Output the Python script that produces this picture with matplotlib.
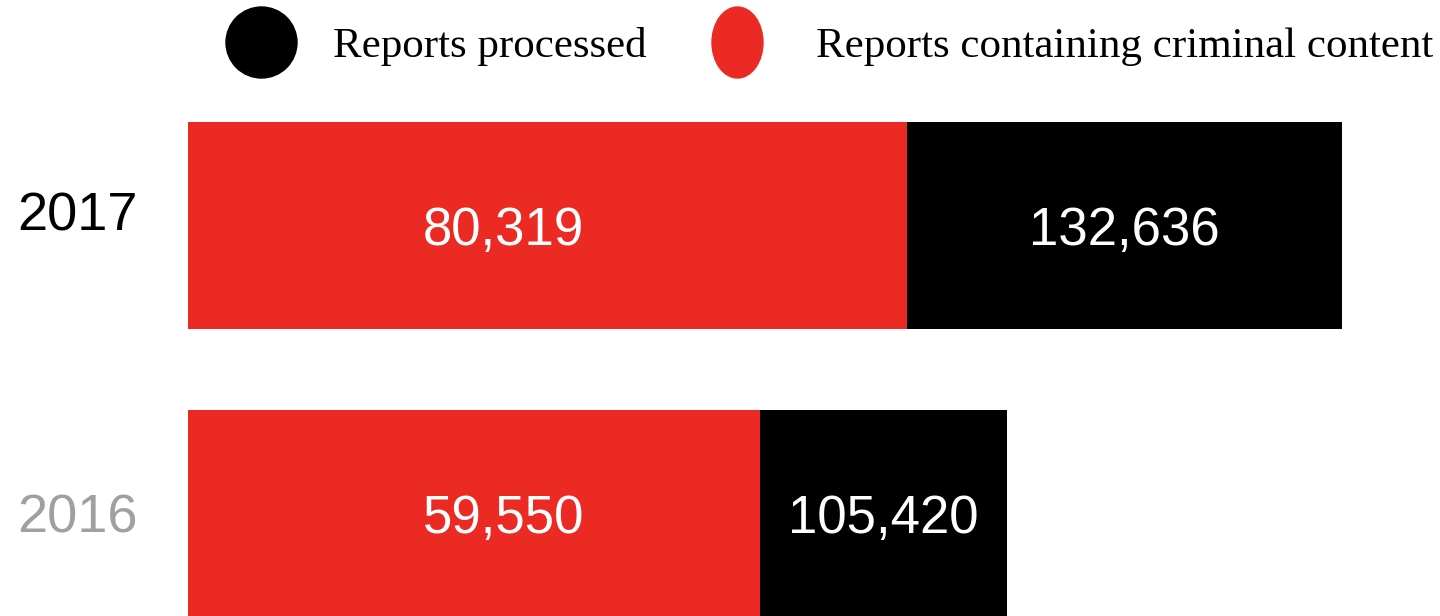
import matplotlib.pyplot as plt
from matplotlib.patches import Ellipse

# data
years = ["2017", "2016"]
criminal = [80319, 59550]
processed = [132636, 105420]
# bar lengths as drawn in the original (not to scale with the labels)
red_drawn = [82600, 65700]
total_drawn = [132636, 94100]

RED = "#ec2a24"
BLACK = "#000000"
GREY = "#a0a0a0"

W, H = 1440, 616
fig = plt.figure(figsize=(W / 100, H / 100), dpi=100)
ax = fig.add_axes([0, 0, 1, 1])

k = 132636 / 1154  # data units per pixel
ax.set_xlim(-188 * k, (W - 188) * k)
ax.set_ylim(1.356, -0.783)
ax.axis("off")

y = list(range(len(years)))
black_drawn = [t - r for t, r in zip(total_drawn, red_drawn)]
ax.barh(y, red_drawn, height=207 / 288, color=RED, linewidth=0)
ax.barh(y, black_drawn, left=red_drawn, height=207 / 288, color=BLACK, linewidth=0)

num_font = dict(family="Liberation Sans", fontsize=38, color="white", va="baseline")
year_colors = [BLACK, GREY]
year_dy = [14, 0]
for i in y:
    # year label
    ax.annotate(years[i], xy=(0, i), xytext=(-171, -19.5 + year_dy[i]),
                textcoords="offset pixels", ha="left", va="baseline",
                family="Liberation Sans", fontsize=39, color=year_colors[i])
    # red segment label
    ax.annotate(f"{criminal[i]:,}", xy=(0, i), xytext=(235, -19.5),
                textcoords="offset pixels", ha="left", **num_font)
    # black segment label
    ax.annotate(f"{processed[i]:,}", xy=(red_drawn[i] + black_drawn[i] / 2, i),
                xytext=(0, -19.5), textcoords="offset pixels", ha="center", **num_font)

# legend
fig.patches.append(Ellipse((261.5, H - 42.5), 71, 71, color=BLACK, transform=None))
fig.patches.append(Ellipse((737.5, H - 42.5), 51, 71, color=RED, transform=None))
fig.text(333 / W, (H - 57) / H, "Reports processed", family="Liberation Serif",
         fontsize=31, va="baseline", ha="left")
fig.text(816 / W, (H - 57) / H, "Reports containing criminal content",
         family="Liberation Serif", fontsize=31, va="baseline", ha="left")

fig.savefig("out.png", dpi=100, facecolor="white")
